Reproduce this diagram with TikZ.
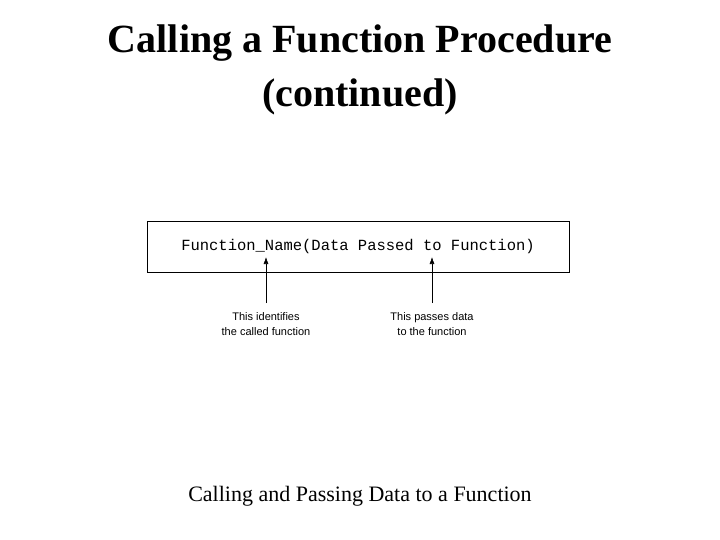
\documentclass[tikz,border=0pt]{standalone}
\usepackage{fontspec}
\setmainfont{Liberation Serif}
\newfontfamily\lsans{Liberation Sans}
\newfontfamily\cour{Liberation Mono}
\usetikzlibrary{arrows.meta}
\begin{document}
\begin{tikzpicture}[x=1pt,y=-1pt,
  lbl/.style={font=\lsans\fontsize{11}{15}\selectfont,align=center,inner sep=0pt},
  arr/.style={-{Latex[length=7pt,width=5pt]},line width=0.6pt}]
\useasboundingbox (0,0) rectangle (720,540);
\node[font=\bfseries\fontsize{40}{54}\selectfont,align=center] (title) at (360,70) {Calling a Function Procedure\\(continued)};
\draw[line width=1pt] (147,222) rectangle (569,272);
\node[font=\cour\fontsize{15.5}{18}\selectfont] (code) at (358,246) {Function\_Name(Data Passed to Function)};
\node[lbl] (l1) at (266,324) {This identifies\\the called function};
\node[lbl] (l2) at (432,324) {This passes data\\to the function};
\coordinate (a1) at (266,257);
\coordinate (a2) at (432,257);
\draw[arr] (266,303) -- (a1);
\draw[arr] (432,303) -- (a2);
\node[font=\fontsize{22}{26}\selectfont] (cap) at (360,496) {Calling and Passing Data to a Function};
\end{tikzpicture}
\end{document}
